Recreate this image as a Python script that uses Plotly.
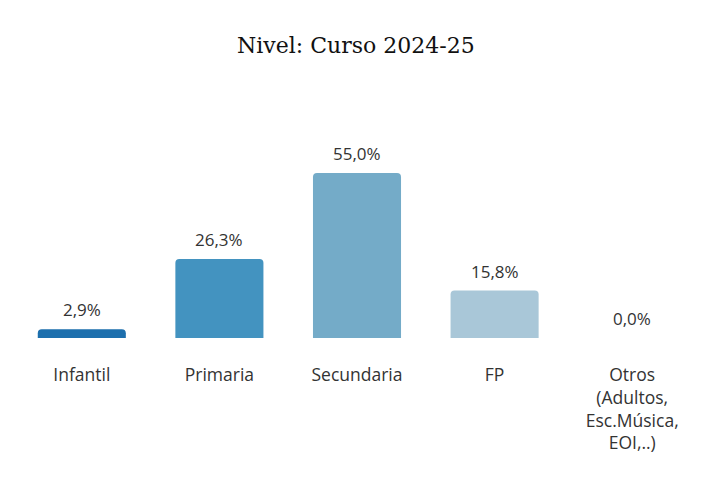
import plotly.graph_objects as go

categories = ["Infantil", "Primaria", "Secundaria", "FP", "Otros<br>(Adultos,<br>Esc.Música,<br>EOI,..)"]
values = [2.9, 26.3, 55.0, 15.8, 0.0]
labels = ["2,9%", "26,3%", "55,0%", "15,8%", "0,0%"]
colors = ["#1d6fad", "#4393c0", "#74abc8", "#a9c7d8", "#d0e1ea"]

fig = go.Figure(go.Bar(
    x=categories, y=values,
    marker=dict(color=colors, cornerradius=4, line=dict(width=0)),
    hoverinfo="skip",
))
for c, v, t in zip(categories, values, labels):
    fig.add_annotation(x=c, y=v, text=t, showarrow=False, yanchor="bottom", yshift=6,
                       font=dict(family="Open Sans", size=17, color="#333333"))
fig.update_layout(
    width=710, height=482,
    paper_bgcolor="white", plot_bgcolor="white",
    margin=dict(l=5, r=17, t=92, b=152),
    bargap=0.36,
    showlegend=False,
    title=dict(text="Nivel: Curso 2024-25", x=0.49, xanchor="center", y=1 - 37 / 482, yanchor="middle",
               font=dict(family="DejaVu Serif", size=22, color="#111111")),
    xaxis=dict(showgrid=False, showline=False, zeroline=False, ticks="outside", ticklen=21,
               tickcolor="rgba(0,0,0,0)", tickfont=dict(family="Open Sans", size=17.5, color="#333333")),
    yaxis=dict(visible=False, range=[0, 79.3]),
)
fig.write_html("out.html")
